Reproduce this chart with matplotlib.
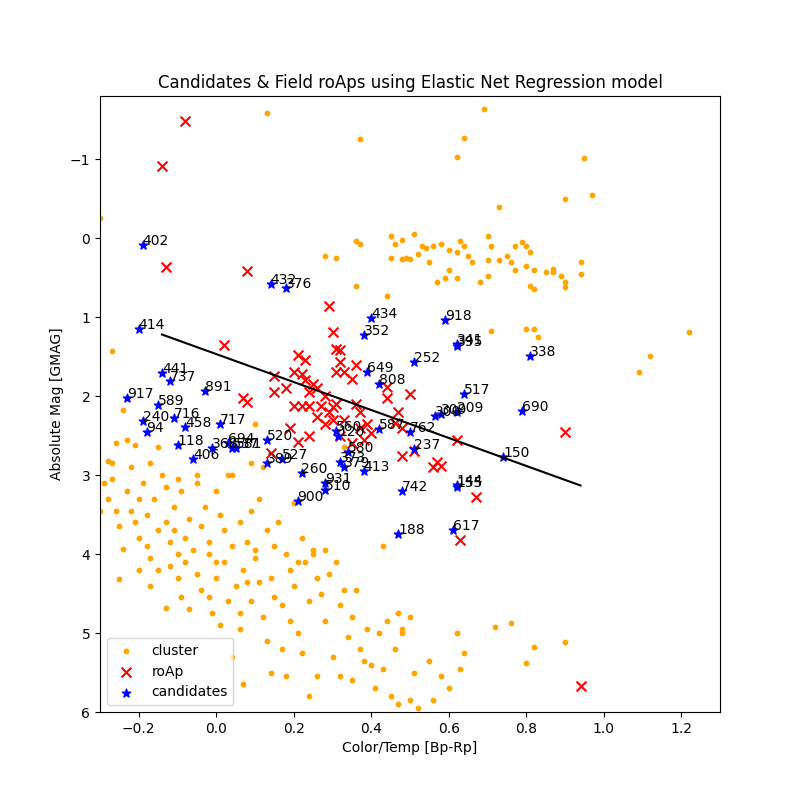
import matplotlib
matplotlib.use("Agg")
import matplotlib.pyplot as plt
import numpy as np

# cluster members (Bp-Rp, absolute G mag)
cluster_pts = [
    (0.13, -1.58), (0.69, -1.63), (0.37, -1.25), (0.62, -1.03), (0.64, -1.27), (0.95, -1.01), (0.97, -0.55),
    (0.9, -0.5), (0.73, -0.4), (-0.3, -0.25), (0.36, 0.04), (0.37, 0.08), (0.45, -0.03), (0.48, 0.02),
    (0.51, -0.05), (0.53, 0.1), (0.54, 0.12), (0.56, 0.1), (0.58, 0.08), (0.6, 0.15), (0.62, 0.18),
    (0.63, 0.04), (0.64, 0.1), (0.65, 0.23), (0.66, 0.3), (0.7, -0.03), (0.71, 0.1), (0.73, 0.28),
    (0.75, 0.22), (0.77, 0.1), (0.79, 0.05), (0.8, 0.1), (0.81, 0.17), (0.82, 0.4), (0.85, 0.43),
    (0.87, 0.43), (0.89, 0.48), (0.9, 0.55), (0.94, 0.3), (0.45, 0.25), (0.46, 0.08), (0.48, 0.27),
    (0.49, 0.25), (0.5, 0.27), (0.55, 0.3), (0.57, 0.55), (0.6, 0.4), (0.62, 0.5), (0.59, 0.5),
    (0.68, 0.56), (0.7, 0.28), (0.76, 0.3), (0.77, 0.4), (0.8, 0.35), (0.81, 0.6), (0.82, 0.65),
    (0.9, 0.62), (0.94, 0.45), (0.28, 0.22), (0.31, 0.25), (0.36, 0.6), (0.44, 0.73), (0.52, 0.2),
    (0.8, 1.15), (0.82, 1.15), (0.83, 1.25), (0.71, 1.18), (1.09, 1.7), (1.12, 1.49), (1.22, 1.19),
    (0.87, 0.39), (0.7, 0.48),
    (-0.27, 1.43), (-0.24, 2.18), (-0.26, 2.6), (-0.28, 2.82), (-0.29, 3.1), (-0.3, 3.45), (-0.28, 3.3),
    (-0.27, 3.05), (-0.26, 3.45), (-0.25, 3.65), (-0.24, 3.93), (-0.25, 4.32), (-0.23, 3.2), (-0.22, 3.45),
    (-0.21, 3.6), (-0.2, 3.3), (-0.2, 3.8), (-0.2, 4.2), (-0.19, 3.1), (-0.18, 3.5), (-0.18, 3.9),
    (-0.17, 4.05), (-0.17, 4.4), (-0.16, 3.3), (-0.15, 3.7), (-0.15, 4.2), (-0.14, 3.0), (-0.13, 4.68),
    (-0.13, 3.6), (-0.12, 3.85), (-0.12, 4.15), (-0.11, 3.4), (-0.11, 3.7), (-0.1, 4.0), (-0.1, 4.3),
    (-0.09, 3.2), (-0.09, 4.55), (-0.08, 3.8), (-0.08, 4.1), (-0.07, 4.7), (-0.07, 3.55), (-0.06, 3.95),
    (-0.05, 4.25), (-0.05, 3.1), (-0.04, 4.45), (-0.04, 3.65), (-0.03, 3.4), (-0.02, 4.0), (-0.02, 3.85),
    (-0.01, 4.75), (0.0, 3.2), (0.0, 4.3), (0.01, 3.5), (0.01, 4.9), (0.02, 3.7), (0.02, 4.1), (0.03, 3.0),
    (0.03, 4.6), (0.04, 3.9), (0.04, 5.3), (0.05, 4.4), (0.06, 3.6), (0.06, 4.95), (0.07, 5.65), (0.07, 4.2),
    (0.08, 3.85), (0.09, 4.6), (0.09, 3.45), (0.1, 4.05), (0.1, 3.95), (0.11, 3.3), (0.11, 4.35), (0.12, 4.8),
    (0.13, 3.7), (0.13, 5.1), (0.14, 4.3), (0.14, 5.5), (0.15, 4.55), (0.15, 3.9), (0.16, 3.6), (0.17, 4.65),
    (0.17, 5.2), (0.18, 4.0), (0.18, 5.55), (0.19, 4.85), (0.2, 3.35), (0.2, 4.4), (0.21, 5.0), (0.22, 3.8),
    (0.22, 5.25), (0.23, 4.1), (0.24, 4.6), (0.24, 5.8), (0.25, 3.95), (0.26, 4.3), (0.26, 5.55), (0.27, 4.5),
    (0.28, 3.95), (0.28, 4.85), (0.29, 4.25), (0.3, 5.3), (0.31, 4.1), (0.32, 4.65), (0.32, 5.55), (0.33, 4.45),
    (0.34, 5.05), (0.35, 4.8), (0.35, 5.6), (0.36, 4.45), (0.37, 5.2), (0.38, 5.35), (0.39, 4.95), (0.4, 5.4),
    (0.41, 5.7), (0.42, 5.0), (0.43, 3.9), (0.43, 5.45), (0.44, 4.85), (0.45, 5.8), (0.46, 5.2), (0.47, 5.9),
    (0.47, 4.75), (0.48, 5.0), (0.5, 5.85), (0.51, 5.5), (0.52, 5.95), (0.55, 5.35), (0.56, 5.85), (0.58, 5.55),
    (0.6, 5.7), (0.62, 5.0), (0.63, 5.45), (0.64, 5.25), (0.72, 4.93), (0.76, 4.87), (0.8, 5.38), (0.82, 5.18),
    (0.9, 5.11), (0.33, 2.65), (-0.21, 2.62), (-0.23, 2.55), (-0.22, 2.9), (-0.17, 2.85), (-0.15, 2.65),
    (-0.13, 3.15), (-0.05, 3.0), (0.04, 3.0), (0.12, 2.9), (0.1, 2.35), (0.09, 2.85), (-0.1, 3.05),
    (-0.27, 2.85), (0.48, 4.95), (0.5, 4.8), (0.25, 4.0), (0.21, 4.1), (0.19, 4.2), (0.06, 4.75),
    (-0.02, 4.55), (0.0, 4.1), (0.08, 4.35),
]

roap_pts = [
    (-0.08, -1.48), (-0.14, -0.91), (-0.13, 0.37), (0.08, 0.42), (0.02, 1.35), (0.29, 0.86), (0.30, 1.19),
    (0.31, 1.40), (0.32, 1.42), (0.21, 1.48), (0.23, 1.54), (0.32, 1.57), (0.36, 1.60),
    (0.15, 1.75), (0.15, 1.95), (0.18, 1.9), (0.2, 1.7), (0.22, 1.72), (0.23, 1.8), (0.25, 1.85),
    (0.24, 1.95), (0.26, 1.9), (0.28, 2.0), (0.31, 1.7), (0.33, 1.7), (0.35, 1.78), (0.2, 2.12),
    (0.22, 2.12), (0.24, 2.12), (0.27, 2.12), (0.29, 2.2), (0.31, 2.1), (0.33, 2.3), (0.36, 2.1),
    (0.37, 2.2), (0.37, 2.4), (0.39, 2.35), (0.4, 2.47), (0.44, 1.88), (0.44, 2.02), (0.47, 2.2),
    (0.48, 2.4), (0.5, 1.97), (0.46, 2.34), (0.3, 2.3), (0.28, 2.35), (0.32, 2.5), (0.24, 2.5),
    (0.19, 2.4), (0.21, 2.58), (0.14, 2.72), (0.08, 2.07), (0.07, 2.02), (0.48, 2.76), (0.51, 2.7),
    (0.56, 2.9), (0.58, 2.88), (0.57, 2.84), (0.62, 2.55), (0.67, 3.28), (0.63, 3.82), (0.9, 2.45),
    (0.94, 5.67), (0.38, 2.55), (0.35, 2.6), (0.3, 2.14), (0.26, 2.27),
]

cand_ids = ['402', '432', '376', '414', '434', '918', '352', '341', '395', '338', '252', '649', '441',
            '737', '808', '891', '517', '917', '589', '690', '309', '209', '300', '240', '716', '717',
            '458', '587', '762', '94', '560', '120', '694', '368', '637', '581', '520', '118', '580',
            '237', '406', '150', '527', '389', '373', '379', '413', '260', '931', '144', '155', '510',
            '742', '900', '188', '617']
cand_x = [-0.19, 0.14, 0.18, -0.20, 0.40, 0.59, 0.38, 0.62, 0.62, 0.81, 0.51, 0.39, -0.14,
          -0.12, 0.42, -0.03, 0.64, -0.23, -0.15, 0.79, 0.58, 0.62, 0.565, -0.19, -0.11, 0.01,
          -0.08, 0.42, 0.50, -0.18, 0.31, 0.315, 0.03, -0.01, 0.04, 0.05, 0.13, -0.10, 0.34,
          0.51, -0.06, 0.74, 0.17, 0.13, 0.32, 0.33, 0.38, 0.22, 0.28, 0.62, 0.62, 0.28,
          0.48, 0.21, 0.47, 0.61]
cand_y = [0.09, 0.58, 0.63, 1.15, 1.01, 1.04, 1.22, 1.34, 1.37, 1.49, 1.57, 1.70, 1.71,
          1.81, 1.85, 1.94, 1.97, 2.03, 2.11, 2.19, 2.23, 2.20, 2.25, 2.32, 2.28, 2.35,
          2.39, 2.42, 2.46, 2.46, 2.44, 2.50, 2.59, 2.66, 2.66, 2.66, 2.56, 2.62, 2.71,
          2.67, 2.80, 2.77, 2.80, 2.85, 2.84, 2.90, 2.95, 2.97, 3.10, 3.13, 3.15, 3.19,
          3.20, 3.33, 3.75, 3.70]

# elastic net fit: mag = slope * color + intercept
slope = 1.77
intercept = 1.468
fit_x = np.array([-0.14, 0.94])

cx, cy = zip(*cluster_pts)
rx, ry = zip(*roap_pts)

fig, ax = plt.subplots(figsize=(8, 8), dpi=100)
ax.scatter(cx, cy, s=10, color='orange', label='cluster')
ax.scatter(rx, ry, s=50, marker='x', color='red', label='roAp')
ax.scatter(cand_x, cand_y, s=40, marker='*', color='blue', label='candidates')
for name, x, y in zip(cand_ids, cand_x, cand_y):
    ax.annotate(name, (x, y), fontsize=10)
ax.plot(fit_x, slope * fit_x + intercept, color='black')

ax.set_xlim(-0.3, 1.3)
ax.set_ylim(6, -1.8)
ax.set_xlabel('Color/Temp [Bp-Rp]')
ax.set_ylabel('Absolute Mag [GMAG]')
ax.set_title('Candidates & Field roAps using Elastic Net Regression model')
ax.legend(loc='lower left')
fig.savefig('out.png')
